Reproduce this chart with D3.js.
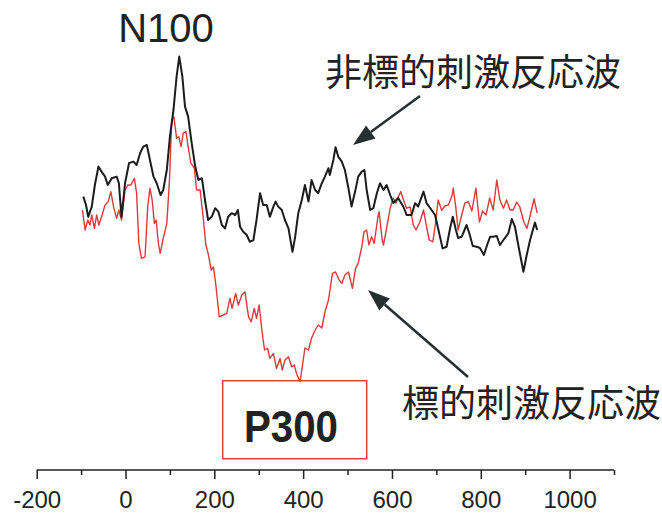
<!DOCTYPE html>
<html lang="ja">
<head>
<meta charset="UTF-8">
<title>ERP N100 / P300</title>
<script src="https://d3js.org/d3.v7.min.js"></script>
<style>
  body { margin: 0; background: #fff; }
  svg { display: block; }
</style>
</head>
<body>
<div id="chart"></div>
<script>
const width = 662;
const height = 516;

// time (ms), amplitude (arbitrary units, up = positive on screen)
const nonTarget = [
  [-95,0.92],[-89,0.5],[-84,-0.09],[-76,0.42],[-69,1.5],[-61,2.42],[-54,2.17],[-46,1.92],[-40,1.5],[-31,1.84],
  [-20,1.92],[-15,1.6],[-9,-0.09],[-1,1.6],[8,2.6],[18,2.67],[25,2.5],[33,3.1],[40,3.42],[48,3.5],
  [55,2.75],[63,1.92],[70,1.6],[79,1.0],[85,1.25],[93,2.25],[100,3.92],[108,5.25],[115,6.92],[121,7.92],
  [128,6.92],[134,5.42],[141,4.92],[149,3.59],[157,2.42],[164,1.75],[172,1.84],[179,0.75],[186,-0.25],[194,-0.09],
  [202,0.34],[209,0.17],[217,-0.5],[224,-0.67],[231,-0.09],[239,0.09],[247,0],[253,0.25],[258,-0.59],[265,-0.84],
  [273,-1.0],[280,-1.34],[288,-1.25],[295,-0.25],[303,1.09],[310,0.5],[318,0.5],[325,-0.09],[333,0.42],[338,0.67],
  [344,0.42],[352,0.25],[359,-0.25],[367,-0.67],[376,-1.84],[382,-1.09],[389,0.09],[397,0.75],[404,1.5],[412,0.67],
  [419,1.75],[427,1.25],[434,1.09],[442,1.59],[449,1.92],[457,2.34],[460,2.0],[468,2.75],[473,3.39],[479,2.92],
  [487,2.67],[494,2.25],[502,1.34],[509,0.42],[517,1.17],[524,1.92],[532,2.17],[538,2.25],[543,1.25],[551,0.25],
  [558,0.34],[566,1.09],[573,1.59],[581,1.25],[588,1.5],[596,1.0],[603,0.6],[614,0.85],[626,0.4],[633,0],
  [644,0],[652,0.59],[659,0.42],[667,0.92],[671,1.17],[678,0.59],[686,0.35],[697,0],[704,-0.67],[714,-1.67],
  [723,-1.59],[731,-0.65],[737,-0.09],[744,-0.75],[749,-1.15],[757,-1.09],[768,-0.5],[774,-0.9],[782,-1.55],[791,-1.59],
  [798,-1.65],[807,-2.0],[815,-1.45],[821,-1.09],[828,-1.09],[836,-1.05],[843,-1.5],[851,-1.25],[862,-0.92],[870,-0.2],
  [877,-0.59],[884,-1.45],[896,-2.84],[903,-2.05],[911,-1.25],[922,-0.38],[927,-0.75]
];

const target = [
  [-97,0.25],[-91,-0.75],[-85,-0.25],[-80,-0.5],[-76,0],[-70,-0.67],[-65,0],[-60,-0.5],[-54,-0.09],[-46,0.5],
  [-39,0.67],[-33,1.17],[-27,0.42],[-20,-0.17],[-15,0.25],[-9,-0.25],[-1,1.25],[5,1.5],[12,1.5],[20,1.84],
  [25,1.09],[30,-1.42],[36,-2.17],[44,-2.09],[50,0.42],[55,1.34],[60,0.75],[65,-0.42],[69,-0.25],[74,-1.42],
  [78,-1.92],[85,-1.17],[93,-0.42],[99,1.75],[104,4.75],[109,4.9],[115,3.84],[120,3.92],[125,3.42],[130,4.09],
  [136,4.17],[141,3.42],[147,2.59],[155,2.35],[160,1.25],[168,1.25],[175,-0.15],[181,-1.5],[186,-1.92],[193,-2.75],
  [198,-2.6],[203,-3.42],[211,-5.09],[220,-5.0],[228,-4.92],[235,-4.17],[240,-4.67],[248,-3.92],[254,-4.5],[262,-4.0],
  [269,-3.84],[277,-5.09],[283,-5.34],[290,-4.67],[295,-5.17],[301,-4.5],[307,-5.75],[313,-6.75],[320,-6.67],[325,-7.17],
  [333,-6.92],[340,-7.67],[348,-7.17],[353,-7.75],[359,-7.25],[367,-7.09],[374,-7.59],[380,-7.5],[385,-7.92],[393,-8.34],
  [398,-7.59],[404,-6.65],[412,-6.75],[419,-6.15],[427,-5.75],[434,-5.5],[442,-5.65],[449,-4.85],[457,-4.25],[466,-2.92],
  [473,-2.85],[481,-3.25],[487,-3.42],[494,-3.0],[502,-2.85],[511,-3.67],[518,-2.67],[524,-2.42],[532,-1.59],[537,-0.84],
  [543,-0.75],[548,-1.5],[554,-1.09],[560,-1.42],[568,-0.15],[571,0.17],[578,-1.25],[581,-1.5],[588,-0.65],[596,0.35],
  [603,0.85],[609,0.59],[614,0.9],[620,1.17],[626,0.75],[633,0.34],[641,0.4],[648,-0.5],[654,-0.75],[663,-0.35],
  [671,0.25],[678,-0.59],[684,-1.25],[692,-1.34],[697,-0.59],[704,0.75],[712,0.23],[719,0.45],[727,0.5],[735,0.95],
  [738,1.35],[744,0.34],[749,-0.75],[757,0],[764,0.59],[772,0.67],[780,0.2],[789,1.34],[797,-0.35],[804,0.2],
  [812,0],[820,0.85],[828,0.25],[836,1.75],[843,0.75],[851,0.34],[858,0.75],[866,0.25],[873,0.25],[881,0.65],
  [888,0.4],[897,-0.35],[904,-0.67],[911,-0.05],[920,0.8],[927,0.09]
];

const majorTicks = [-200, 0, 200, 400, 600, 800, 1000];
const minorTicks = [-100, 100, 300, 500, 700, 900, 1100];

const svg = d3.select("#chart").append("svg")
  .attr("width", width)
  .attr("height", height);

const x = d3.scaleLinear().domain([-200, 1100]).range([36.7, 614]);
const y = d3.scaleLinear().domain([-10, 10]).range([415, 15]);

// axis
const axisY = 470;
const minorAxis = d3.axisBottom(x).tickValues(minorTicks).tickSize(5).tickFormat("");
const majorAxis = d3.axisBottom(x).tickValues(majorTicks).tickSize(9).tickSizeOuter(0)
  .tickFormat(d => d < 0 ? "-" + (-d) : String(d));

svg.append("g")
  .attr("transform", `translate(0,${axisY})`)
  .call(minorAxis)
  .call(g => g.select(".domain").remove())
  .selectAll("line").attr("stroke", "#222").attr("stroke-width", 1.5);

const gx = svg.append("g")
  .attr("transform", `translate(0,${axisY})`)
  .call(majorAxis);
gx.select(".domain").attr("stroke", "#222").attr("stroke-width", 1.5)
  .attr("d", `M${x(-200)},0H${x(1100)}`);
gx.selectAll("line").attr("stroke", "#222").attr("stroke-width", 1.5);
gx.selectAll("text")
  .attr("y", 38).attr("dy", 0)
  .attr("fill", "#222")
  .attr("font-family", "'Liberation Sans', Arial, sans-serif")
  .attr("font-size", 24);

// waveforms
const line = d3.line().x(d => x(d[0])).y(d => y(d[1]));

svg.append("path").datum(target)
  .attr("fill", "none")
  .attr("stroke", "#dc3b3b")
  .attr("stroke-width", 1.4)
  .attr("stroke-linejoin", "round")
  .attr("d", line);

svg.append("path").datum(nonTarget)
  .attr("fill", "none")
  .attr("stroke", "#1c1c1c")
  .attr("stroke-width", 2)
  .attr("stroke-linejoin", "round")
  .attr("d", line);

// labels
const latin = "'Liberation Sans', Arial, sans-serif";
const cjk = "'Noto Sans CJK JP', sans-serif";

svg.append("text")
  .attr("x", 166).attr("y", 42)
  .attr("text-anchor", "middle")
  .attr("font-family", latin).attr("font-size", 40)
  .attr("fill", "#222")
  .text("N100");

svg.append("text")
  .attr("x", 325).attr("y", 86)
  .attr("font-family", cjk).attr("font-size", 37)
  .attr("fill", "#222")
  .text("非標的刺激反応波");

svg.append("text")
  .attr("x", 402).attr("y", 417)
  .attr("font-family", cjk).attr("font-size", 37)
  .attr("fill", "#222")
  .text("標的刺激反応波");

// P300 box
svg.append("rect")
  .attr("x", 222.7).attr("y", 380.7)
  .attr("width", 144).attr("height", 78)
  .attr("fill", "none")
  .attr("stroke", "#d94040")
  .attr("stroke-width", 1.5);

svg.append("text")
  .attr("x", 291).attr("y", 442)
  .attr("text-anchor", "middle")
  .attr("font-family", latin).attr("font-size", 44).attr("font-weight", "bold")
  .attr("textLength", 94).attr("lengthAdjust", "spacingAndGlyphs")
  .attr("fill", "#222")
  .text("P300");

// arrows
function arrow(x1, y1, x2, y2) {
  const ang = Math.atan2(y2 - y1, x2 - x1);
  const len = 22, half = 8;
  const bx = x2 - len * Math.cos(ang), by = y2 - len * Math.sin(ang);
  svg.append("line")
    .attr("x1", x1).attr("y1", y1).attr("x2", bx).attr("y2", by)
    .attr("stroke", "#263030").attr("stroke-width", 2.5);
  const px = -Math.sin(ang) * half, py = Math.cos(ang) * half;
  svg.append("path")
    .attr("d", `M${x2},${y2}L${bx + px},${by + py}L${bx - px},${by - py}Z`)
    .attr("fill", "#263030");
}
arrow(420, 96, 353, 145);
arrow(468, 377, 368, 290);
</script>
</body>
</html>
